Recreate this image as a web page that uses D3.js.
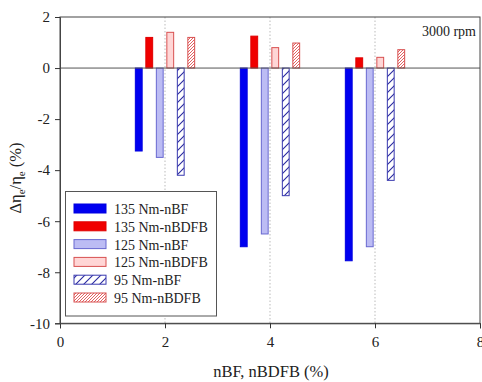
<!DOCTYPE html>
<html><head><meta charset="utf-8">
<script src="https://cdn.jsdelivr.net/npm/d3@7"></script>
<style>body{margin:0;background:#fff}svg{display:block}svg text{font-family:"Liberation Serif",Tinos,"Times New Roman",Times,"DejaVu Serif",serif !important}</style>
</head><body>
<svg id="c" width="482" height="382"></svg>
<script>
const groups = [2, 4, 6];
const seriesNames = ["135 Nm-nBF","135 Nm-nBDFB","125 Nm-nBF","125 Nm-nBDFB","95 Nm-nBF","95 Nm-nBDFB"];
const offsets = [-0.5, -0.3, -0.1, 0.1, 0.3, 0.5];
const v135nBF   = [-3.25, -7.0, -7.55];
const v135nBDFB = [1.2, 1.25, 0.4];
const v125nBF   = [-3.5, -6.5, -7.0];
const v125nBDFB = [1.4, 0.8, 0.42];
const v95nBF    = [-4.2, -5.0, -4.4];
const v95nBDFB  = [1.2, 0.98, 0.72];
const seriesValues = [v135nBF, v135nBDFB, v125nBF, v125nBDFB, v95nBF, v95nBDFB];
const xTicks = [0, 2, 4, 6, 8];
const yTicks = [2, 0, -2, -4, -6, -8, -10];

const fills = ["#0000f0", "#f00000", "#bcbcf4", "#ffd6d6", "url(#hb)", "url(#hr)"];
const strokes = ["#0000e0", "#e00000", "#6868d0", "#d85050", "#3a3ab0", "#d85050"];
const FONT = '"Liberation Serif", Tinos, "Times New Roman", Times, "DejaVu Serif", serif';

const svg = d3.select("#c");
const defs = svg.append("defs");
const hb = defs.append("pattern").attr("id","hb").attr("patternUnits","userSpaceOnUse").attr("width",8).attr("height",8);
hb.append("rect").attr("width",8).attr("height",8).attr("fill","#fff");
hb.append("path").attr("d","M-2,10 L10,-2 M-2,2 L2,-2 M6,10 L10,6").attr("stroke","#2a2aa0").attr("stroke-width",1.1);
const hr = defs.append("pattern").attr("id","hr").attr("patternUnits","userSpaceOnUse").attr("width",3).attr("height",3);
hr.append("rect").attr("width",3).attr("height",3).attr("fill","#fff");
hr.append("path").attr("d","M-1,4 L4,-1 M-1,1 L1,-1 M2,4 L4,2").attr("stroke","#e05050").attr("stroke-width",0.9);

const L = 60, R = 480, T = 17, B = 323.3;
const x = d3.scaleLinear().domain([0, 8]).range([L, R]);
const y = d3.scaleLinear().domain([-10, 2]).range([B, T]);
const bw = 0.13;

svg.append("g").selectAll("line").data([2,4,6]).join("line")
  .attr("x1", d => x(d)).attr("x2", d => x(d)).attr("y1", T).attr("y2", B)
  .attr("stroke", "#aaa").attr("stroke-width", 0.8).attr("stroke-dasharray", "1.5,2");

seriesValues.forEach((vals, si) => {
  svg.append("g").selectAll("rect").data(vals).join("rect")
    .attr("x", (d, i) => x(groups[i] + offsets[si] - bw / 2))
    .attr("width", x(bw) - x(0))
    .attr("y", d => y(Math.max(0, d)))
    .attr("height", d => Math.abs(y(d) - y(0)))
    .attr("fill", fills[si]).attr("stroke", strokes[si]).attr("stroke-width", 1);
});

svg.append("line").attr("x1", L).attr("x2", R).attr("y1", y(0)).attr("y2", y(0)).attr("stroke", "#555").attr("stroke-width", 1);

svg.append("rect").attr("x", L).attr("y", T).attr("width", R - L).attr("height", B - T)
  .attr("fill", "none").attr("stroke", "#444").attr("stroke-width", 1);

const xa = svg.append("g").attr("transform", `translate(0,${B})`)
  .call(d3.axisBottom(x).tickValues(xTicks).tickSize(5).tickPadding(8).tickFormat(d3.format("d")));
const ya = svg.append("g").attr("transform", `translate(${L},0)`)
  .call(d3.axisLeft(y).tickValues(yTicks).tickSize(5).tickPadding(5).tickFormat(d => d < 0 ? "-" + Math.abs(d) : d));
[xa, ya].forEach(a => {
  a.attr("font-family", FONT);
  a.select(".domain").attr("stroke", "#444");
  a.selectAll(".tick line").attr("stroke", "#333");
  a.selectAll("text").attr("font-size", 15).attr("fill", "#222").style("font-family", FONT);
});

svg.append("text").attr("x", 271).attr("y", 377).attr("text-anchor", "middle").style("font-family", FONT)
  .attr("font-size", 16.5).attr("fill", "#222").text("nBF, nBDFB (%)");
const yl = svg.append("text").attr("transform", "translate(21,178) rotate(-90)").attr("text-anchor", "middle")
  .style("font-family", FONT).attr("font-size", 16.5).attr("fill", "#222");
yl.append("tspan").text("Δη");
yl.append("tspan").attr("font-size", 11).attr("dy", 4).text("e");
yl.append("tspan").attr("dy", -4).text("/η");
yl.append("tspan").attr("font-size", 11).attr("dy", 4).text("e");
yl.append("tspan").attr("dy", -4).text(" (%)");

svg.append("text").attr("x", 476).attr("y", 36).attr("text-anchor", "end").style("font-family", FONT)
  .attr("font-size", 14).attr("fill", "#222").text("3000 rpm");

const lg = svg.append("g");
lg.append("rect").attr("x", 65.5).attr("y", 191.5).attr("width", 151).attr("height", 124.5)
  .attr("fill", "#fff").attr("stroke", "#555").attr("stroke-width", 1);
seriesNames.forEach((n, i) => {
  const yy = 209 + i * 17.8;
  lg.append("rect").attr("x", 74).attr("y", yy - 5).attr("width", 32).attr("height", 9)
    .attr("fill", fills[i]).attr("stroke", strokes[i]).attr("stroke-width", 1);
  lg.append("text").attr("x", 114).attr("y", yy + 5).style("font-family", FONT).attr("font-size", 14).attr("fill", "#222").text(n);
});
</script>
</body></html>
